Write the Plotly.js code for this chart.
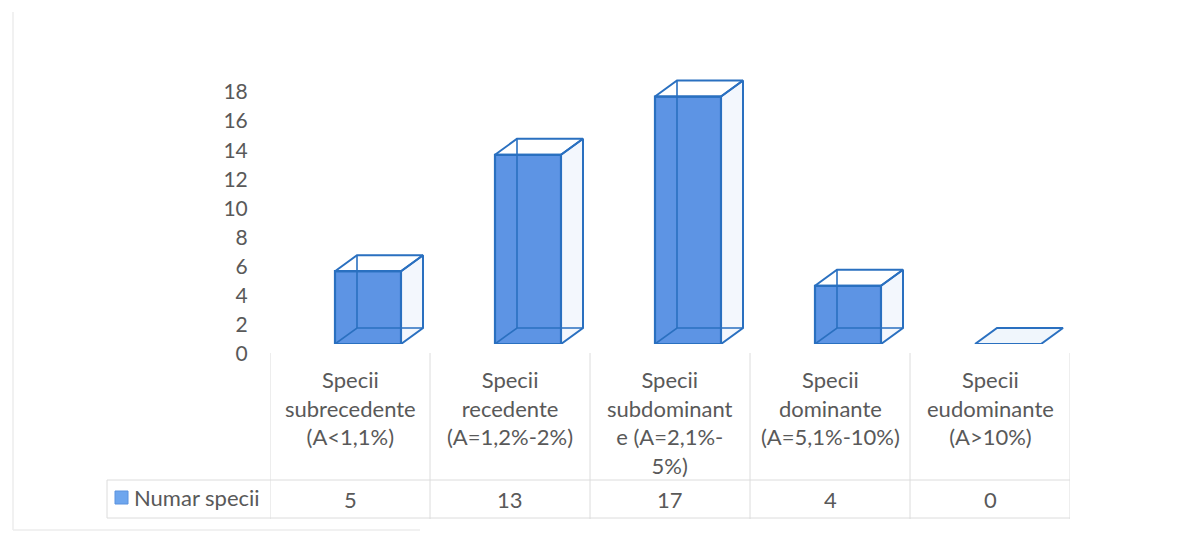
<!DOCTYPE html>
<html>
<head>
<meta charset="utf-8">
<script src="https://cdn.plot.ly/plotly-3.0.1.min.js"></script>
<style>
  html, body { margin: 0; padding: 0; background: #ffffff; }
  #chart { width: 1197px; height: 533px; }
</style>
</head>
<body>
<div id="chart"></div>
<script>
// Abundance classes (category labels, one row per line of the data table header)
const categoryLabels = [
  'Specii<br>subrecedente<br>(A&lt;1,1%)',
  'Specii<br>recedente<br>(A=1,2%-2%)',
  'Specii<br>subdominant<br>e (A=2,1%-<br>5%)',
  'Specii<br>dominante<br>(A=5,1%-10%)',
  'Specii<br>eudominante<br>(A&gt;10%)'
];
// Number of species in each class
const speciesCount = [5, 13, 17, 4, 0];
const seriesName = 'Numar specii';
const yTicks = [0, 2, 4, 6, 8, 10, 12, 14, 16, 18];

// ---- geometry of the page ----
const W = 1197, H = 533;
const M = { l: 270, r: 127, t: 60, b: 179 };
const plotW = W - M.l - M.r;           // 800
const plotH = H - M.t - M.b;           // 294
const unitPx = 262 / 18;               // pixels per species on the value axis
const shiftPx = 10;                    // floor of the boxes sits above the label baseline
const px = p => (p - M.l) / plotW;     // page pixel -> paper x
const py = p => (H - M.b - p) / plotH; // page pixel -> paper y

// 3D box look (in axis units)
const barW = 0.4125;                   // front face width
const barOff = -0.09375;               // front face left edge relative to category centre
const depthX = 0.1375;                 // receding offset to the right
const depthY = 1.1;                    // receding offset upward

const edge = '#2a70c0';
const face = '#5d94e4';
const font = 'Lato, "Open Sans", "Liberation Sans", sans-serif';
const textColor = '#595959';

const idx = speciesCount.map((_, i) => i);

const traces = [];

// Front faces of the boxes
traces.push({
  type: 'bar',
  x: idx,
  y: speciesCount,
  width: idx.map(() => barW),
  offset: idx.map(() => barOff),
  marker: { color: face, line: { color: edge, width: 2.2 } },
  hoverinfo: 'y',
  name: seriesName,
  showlegend: false,
  xaxis: 'x', yaxis: 'y'
});

// Right side, top and the hidden back edges of each box
speciesCount.forEach((v, i) => {
  const xl = i + barOff, xr = xl + barW;
  if (v > 0) {
    // side face
    traces.push({
      type: 'scatter', mode: 'lines', hoverinfo: 'skip', showlegend: false,
      x: [xr, xr + depthX, xr + depthX, xr, xr],
      y: [0, depthY, v + depthY, v, 0],
      fill: 'toself', fillcolor: 'rgba(214,230,248,0.3)',
      line: { color: edge, width: 2 }
    });
    // top face
    traces.push({
      type: 'scatter', mode: 'lines', hoverinfo: 'skip', showlegend: false,
      x: [xl, xl + depthX, xr + depthX, xr, xl],
      y: [v, v + depthY, v + depthY, v, v],
      line: { color: edge, width: 2 }
    });
    // back edges seen through the front face
    traces.push({
      type: 'scatter', mode: 'lines', hoverinfo: 'skip', showlegend: false,
      x: [xl, xl + depthX, xr + depthX, null, xl + depthX, xl + depthX],
      y: [0, depthY, depthY, null, depthY, v + depthY],
      line: { color: edge, width: 1.6 }
    });
  } else {
    // empty class: only the floor of the box
    traces.push({
      type: 'scatter', mode: 'lines', hoverinfo: 'skip', showlegend: false,
      x: [xl, xl + depthX, xr + depthX, xr, xl],
      y: [0, depthY, depthY, 0, 0],
      fill: 'toself', fillcolor: 'rgba(225,238,250,0.5)',
      line: { color: edge, width: 2 }
    });
  }
});

// Carrier for the value axis labels
traces.push({
  type: 'scatter', mode: 'markers', x: [0], y: [0], xaxis: 'x', yaxis: 'y2',
  marker: { opacity: 0 }, hoverinfo: 'skip', showlegend: false
});

// ---- data table under the chart ----
const grid = '#dcdcdc';
const shapes = [];
for (let k = 0; k <= speciesCount.length; k++) {
  shapes.push({ type: 'line', xref: 'x', yref: 'paper', x0: k - 0.5, x1: k - 0.5,
    y0: py(353), y1: py(519), line: { color: grid, width: 1 } });
}
shapes.push({ type: 'line', xref: 'paper', yref: 'paper', x0: px(107), x1: 1, y0: py(480), y1: py(480), line: { color: grid, width: 1 } });
shapes.push({ type: 'line', xref: 'paper', yref: 'paper', x0: px(107), x1: 1, y0: py(518), y1: py(518), line: { color: grid, width: 1 } });
shapes.push({ type: 'line', xref: 'paper', yref: 'paper', x0: px(107), x1: px(107), y0: py(480), y1: py(518), line: { color: grid, width: 1 } });
// legend key
shapes.push({ type: 'rect', xref: 'paper', yref: 'paper', x0: px(115), x1: px(128), y0: py(491), y1: py(504),
  fillcolor: '#6ea6ee', line: { color: '#5a92de', width: 1 } });
// faint outer frame
shapes.push({ type: 'line', xref: 'paper', yref: 'paper', x0: px(13), x1: px(13), y0: py(12), y1: py(530), line: { color: '#ececec', width: 1.5 } });
shapes.push({ type: 'line', xref: 'paper', yref: 'paper', x0: px(13), x1: px(420), y0: py(530), y1: py(530), line: { color: '#ececec', width: 1.5 } });

const annotations = [];
categoryLabels.forEach((t, i) => {
  annotations.push({ xref: 'x', yref: 'paper', x: i, y: py(364), yanchor: 'top', xanchor: 'center',
    text: t, showarrow: false, align: 'center',
    font: { family: font, size: 22, color: textColor } });
  annotations.push({ xref: 'x', yref: 'paper', x: i, y: py(500), yanchor: 'middle', xanchor: 'center',
    text: String(speciesCount[i]), showarrow: false,
    font: { family: font, size: 22, color: textColor } });
});
annotations.push({ xref: 'paper', yref: 'paper', x: px(132), y: py(497), xanchor: 'left', yanchor: 'middle',
  text: seriesName, showarrow: false, font: { family: font, size: 22, color: textColor } });

const layout = {
  width: W, height: H,
  margin: M,
  paper_bgcolor: '#ffffff', plot_bgcolor: 'rgba(0,0,0,0)',
  showlegend: false,
  bargap: 0,
  xaxis: { range: [-0.5, 4.5], showgrid: false, zeroline: false, showticklabels: false, ticks: '', showline: false, fixedrange: true },
  yaxis: { domain: [shiftPx / plotH, 1], range: [0, (plotH - shiftPx) / unitPx], showgrid: false, zeroline: false,
    showticklabels: false, showline: false, fixedrange: true },
  yaxis2: { domain: [0, 18 * unitPx / plotH], range: [0, 18], anchor: 'x', tickvals: yTicks,
    showgrid: false, zeroline: false, showline: false, ticks: 'outside', ticklen: 17, tickcolor: 'rgba(0,0,0,0)',
    tickfont: { family: font, size: 21, color: textColor }, fixedrange: true },
  shapes: shapes,
  annotations: annotations,
  font: { family: font, color: textColor }
};

Plotly.newPlot('chart', traces, layout, { displayModeBar: false, staticPlot: true });
</script>
</body>
</html>
